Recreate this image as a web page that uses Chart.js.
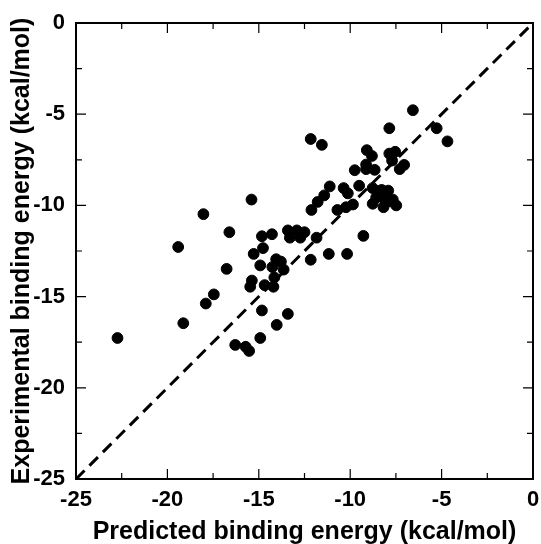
<!DOCTYPE html>
<html lang="en">
<head>
    <meta charset="UTF-8">
    <title>Binding energy</title>
    <script src="https://cdn.jsdelivr.net/npm/chart.js"></script>
    <style>
        html, body { margin: 0; padding: 0; background: #fff; }
        #wrap { width: 541px; height: 544px; }
    </style>
</head>
<body>
    <div id="wrap"><canvas id="scatter"></canvas></div>

    <script>
        // predicted (x) vs experimental (y), kcal/mol
        const predicted = [
            -22.73, -19.41, -19.13, -18.03, -17.90, -17.46, -16.76, -16.61, -16.29, -15.72,
            -15.53, -15.40, -15.47, -15.38, -15.28, -14.92, -14.83, -14.77, -14.83, -14.92,
            -14.68, -14.28, -14.26, -14.20, -14.15, -14.02, -14.05, -13.79, -13.64, -13.41,
            -13.30, -13.41, -12.92, -12.73, -12.50, -12.16, -11.55, -12.12, -12.16, -11.84,
            -11.78, -11.42, -11.12, -11.17, -10.70, -10.36, -10.23, -10.13, -10.17, -9.85,
            -9.75, -9.51, -9.28, -9.13, -9.13, -9.09, -8.81, -8.66, -8.77, -8.77,
            -8.58, -8.39, -8.28, -8.18, -8.09, -7.92, -7.82, -7.67, -7.48, -7.86,
            -7.86, -7.54, -7.71, -7.29, -7.05, -6.57, -5.27, -4.68
        ];
        const experimental = [
            -17.27, -12.28, -16.46, -10.48, -15.38, -14.88, -13.48, -11.47, -17.65, -17.75,
            -17.98, -9.68, -14.46, -14.12, -12.66, -13.29, -11.69, -12.34, -15.76, -17.27,
            -14.37, -11.58, -13.38, -14.46, -13.95, -16.55, -12.95, -13.08, -13.52, -11.37,
            -11.77, -15.95, -11.37, -11.77, -11.47, -6.36, -6.68, -10.25, -12.98, -11.77,
            -9.81, -9.45, -8.96, -12.66, -10.25, -9.05, -10.10, -9.34, -12.66, -9.95,
            -8.07, -8.92, -11.67, -7.76, -8.01, -6.97, -7.29, -8.05, -9.05, -9.91,
            -9.57, -9.38, -9.15, -10.10, -9.72, -9.19, -9.78, -9.68, -10.00, -5.77,
            -7.16, -7.06, -7.54, -8.01, -7.78, -4.78, -5.77, -6.49
        ];
        const diagonal = [-25, 0];
        const axisMin = -25, axisMax = 0;
        const majorTicks = [-25, -20, -15, -10, -5, 0];
        const minorTicks = [-22.5, -17.5, -12.5, -7.5, -2.5];

        const points = predicted.map((x, i) => ({ x: x, y: experimental[i] }));
        const linePts = diagonal.map(v => ({ x: v, y: v }));

        // frame with ticks pointing inward on all four sides
        const framePlugin = {
            id: "frame",
            afterDatasetsDraw(chart) {
                const { ctx, chartArea: a, scales } = chart;
                ctx.save();
                ctx.strokeStyle = "#000";
                ctx.lineWidth = 2;
                ctx.strokeRect(a.left, a.top, a.right - a.left, a.bottom - a.top);
                const tick = (v, len) => {
                    const px = scales.x.getPixelForValue(v);
                    const py = scales.y.getPixelForValue(v);
                    ctx.beginPath();
                    ctx.moveTo(px, a.bottom); ctx.lineTo(px, a.bottom - len);
                    ctx.moveTo(px, a.top); ctx.lineTo(px, a.top + len);
                    ctx.moveTo(a.left, py); ctx.lineTo(a.left + len, py);
                    ctx.moveTo(a.right, py); ctx.lineTo(a.right - len, py);
                    ctx.stroke();
                };
                ctx.lineWidth = 1.2;
                majorTicks.forEach(v => tick(v, 10));
                minorTicks.forEach(v => tick(v, 6));
                ctx.restore();
            }
        };

        const tickFont = { family: "'Liberation Sans', Arial, sans-serif", size: 22, weight: "bold" };
        const titleFont = { family: "'Liberation Sans', Arial, sans-serif", size: 25, weight: "bold" };

        new Chart(document.getElementById("scatter"), {
            type: "scatter",
            data: {
                datasets: [
                    {
                        data: points,
                        backgroundColor: "#000",
                        borderColor: "#000",
                        pointRadius: 5.4,
                        pointHoverRadius: 5.4
                    },
                    {
                        type: "line",
                        data: linePts,
                        borderColor: "#000",
                        borderWidth: 3,
                        borderDash: [12, 7],
                        pointRadius: 0,
                        fill: false
                    }
                ]
            },
            options: {
                responsive: true,
                maintainAspectRatio: false,
                animation: false,
                layout: { padding: { top: 23, right: 8, left: 0, bottom: 0 } },
                plugins: { legend: { display: false }, tooltip: { enabled: false } },
                scales: {
                    x: {
                        type: "linear",
                        min: axisMin, max: axisMax,
                        afterBuildTicks: s => { s.ticks = majorTicks.map(v => ({ value: v })); },
                        afterFit: s => { s.height = 65; },
                        grid: { display: false },
                        border: { display: false },
                        ticks: { color: "#000", font: tickFont, padding: 0, maxRotation: 0 },
                        title: { display: true, text: "Predicted binding energy (kcal/mol)", color: "#000", font: titleFont, padding: { top: 0, bottom: -3 } }
                    },
                    y: {
                        type: "linear",
                        min: axisMin, max: axisMax,
                        afterBuildTicks: s => { s.ticks = majorTicks.map(v => ({ value: v })); },
                        afterFit: s => { s.width = 76; },
                        grid: { display: false },
                        border: { display: false },
                        ticks: { color: "#000", font: tickFont, padding: 3 },
                        title: { display: true, text: "Experimental binding energy (kcal/mol)", color: "#000", font: titleFont, padding: { top: 7, bottom: 0 } }
                    }
                }
            },
            plugins: [framePlugin]
        });
    </script>
</body>
</html>
